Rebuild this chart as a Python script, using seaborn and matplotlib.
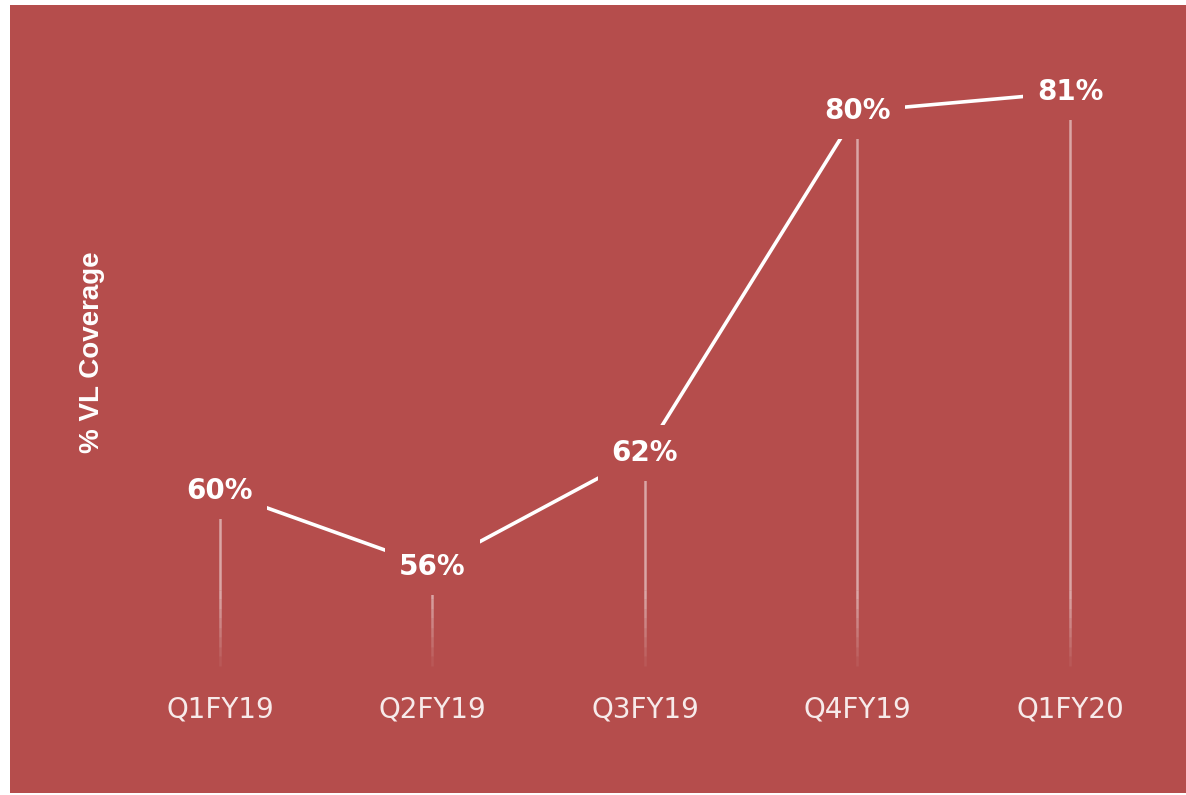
import matplotlib
matplotlib.use("Agg")
import matplotlib.pyplot as plt
import numpy as np
import pandas as pd
import seaborn as sns

# data
quarters = ["Q1FY19", "Q2FY19", "Q3FY19", "Q4FY19", "Q1FY20"]
coverage = [60, 56, 62, 80, 81]

df = pd.DataFrame({"pos": range(len(quarters)), "quarter": quarters, "coverage": coverage})

bg = "#B54D4C"
base = 50.8

sns.set_style("white")
plt.rcParams["font.family"] = ["DejaVu Sans"]

fig = plt.figure(figsize=(11.86, 7.95), dpi=100, facecolor="white")
ax = fig.add_axes([10 / 1186, 2 / 795, 1176 / 1186, 788 / 795])
ax.set_facecolor(bg)

# thin drop lines from each point to the base, fading out near the bottom
fade_top = base + 4
ax.vlines(df["pos"], fade_top, df["coverage"], color="white", alpha=0.5,
          linewidth=1.8, capstyle="butt", zorder=1)
edges = np.linspace(base, fade_top, 9)
for i in range(len(edges) - 1):
    ax.vlines(df["pos"], edges[i], edges[i + 1], color="white",
              alpha=0.5 * (i + 1) / (len(edges) - 1), linewidth=1.8,
              capstyle="butt", zorder=1)

# connecting line
sns.lineplot(data=df, x="pos", y="coverage", ax=ax, color="white", linewidth=2.6,
             sort=False, zorder=2)

# value labels, boxed in background colour so the line stops short of them
for x, v in zip(df["pos"], df["coverage"]):
    ax.text(x, v, f"{v}%", ha="center", va="center", color="white", fontsize=20,
            fontweight="bold", zorder=5,
            bbox=dict(boxstyle="square,pad=0.5", facecolor=bg, edgecolor="none"))

ax.set_xlim(-0.988, 4.546)
ax.set_ylim(44.1, 85.6)

ax.set_xticks(df["pos"])
ax.set_xticklabels(quarters, color="#f7eaea", fontsize=20)
ax.tick_params(axis="x", length=0, pad=-70)
ax.set_yticks([])
ax.set_xlabel("")

ax.set_ylabel("% VL Coverage", color="white", fontsize=20, fontweight="bold",
              family=["Liberation Sans Narrow", "Liberation Sans"])
ax.yaxis.set_label_coords(0.081, 0.56)

for s in ax.spines.values():
    s.set_visible(False)

fig.savefig("out.png", dpi=100, facecolor="white")
